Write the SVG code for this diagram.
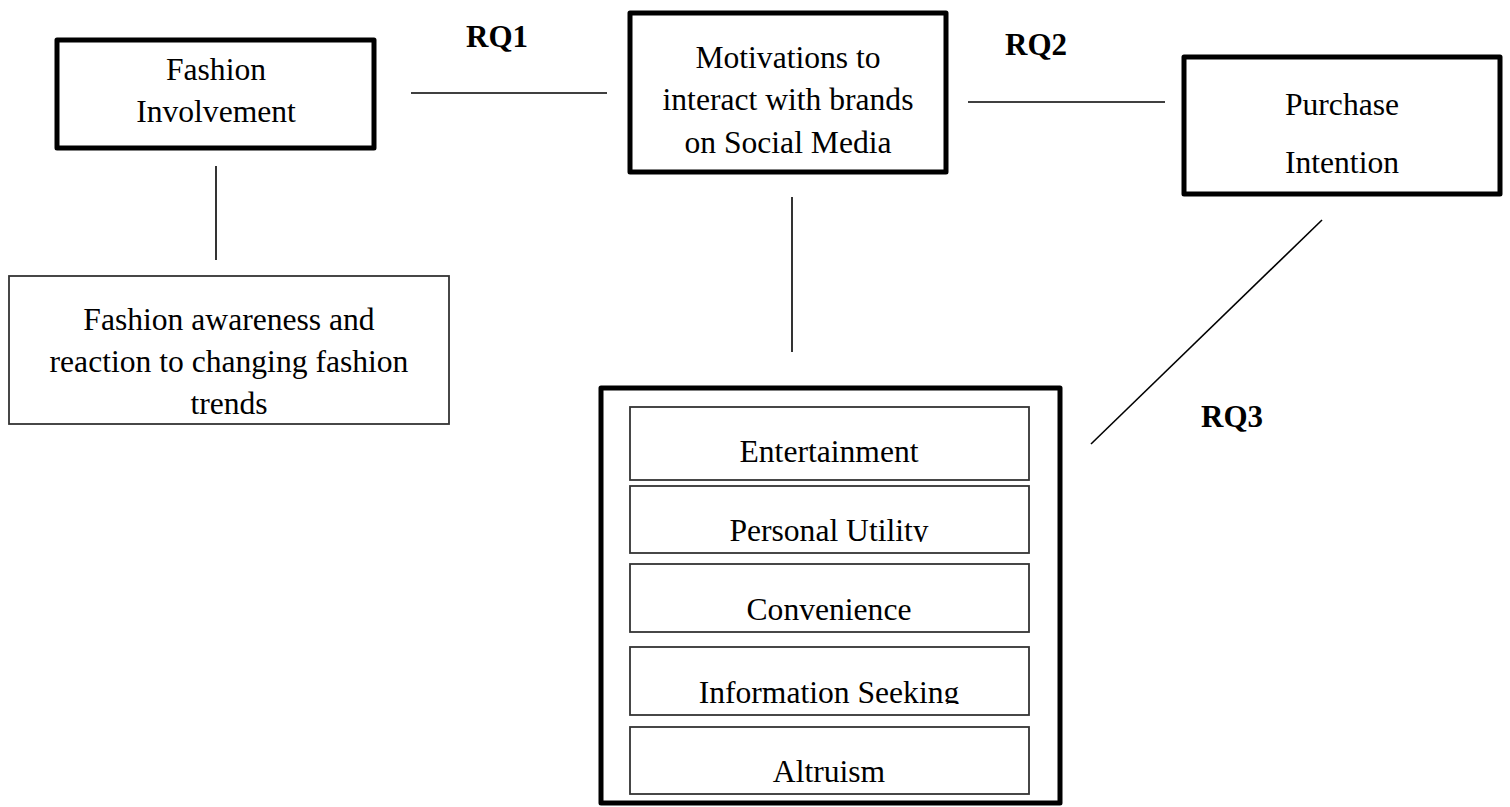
<svg xmlns="http://www.w3.org/2000/svg" width="1510" height="807" viewBox="0 0 1510 807">
<style>
.thick{fill:#fff;stroke:#000;stroke-width:5;stroke-linejoin:round}
.thin{fill:#fff;stroke:#333;stroke-width:1.8}
.t{font-family:"Liberation Serif","Times New Roman",serif;font-size:31.6px;fill:#000;text-anchor:middle}
.rq{font-family:"Liberation Serif","Times New Roman",serif;font-size:31px;font-weight:bold;fill:#000}
.ln{stroke:#000;stroke-width:1.6;fill:none}
</style>
<defs>
<clipPath id="c-aw"><rect x="9" y="276" width="440" height="139"/></clipPath>
<clipPath id="c-pu"><rect x="630" y="486" width="399" height="56"/></clipPath>
<clipPath id="c-is"><rect x="630" y="647" width="399" height="57"/></clipPath>
</defs>
<rect width="1510" height="807" fill="#fff"/>
<g id="connectors">
<line class="ln" x1="216" y1="166" x2="216" y2="260"/>
<line class="ln" x1="411" y1="93" x2="607" y2="93"/>
<line class="ln" x1="968" y1="102" x2="1165" y2="102"/>
<line class="ln" x1="792" y1="197" x2="792" y2="352"/>
<line class="ln" x1="1322" y1="220" x2="1091" y2="444"/>
<text class="rq" x="466" y="47">RQ1</text>
<text class="rq" x="1005" y="55">RQ2</text>
<text class="rq" x="1201" y="427">RQ3</text>
</g>
<g id="fashion-involvement">
<rect class="thick" x="57" y="40" width="317" height="108" stroke-width="4"/>
<text class="t" x="216" y="80">Fashion</text>
<text class="t" x="216" y="122">Involvement</text>
</g>
<g id="fashion-awareness">
<rect class="thin" x="9" y="276" width="440" height="148"/>
<g clip-path="url(#c-aw)">
<text class="t" x="229" y="330">Fashion awareness and</text>
<text class="t" x="229" y="372">reaction to changing fashion</text>
<text class="t" x="229" y="414">trends</text>
</g>
</g>
<g id="motivations">
<rect class="thick" x="630" y="13" width="316" height="159"/>
<text class="t" x="788" y="68">Motivations to</text>
<text class="t" x="788" y="110">interact with brands</text>
<text class="t" x="788" y="153">on Social Media</text>
</g>
<g id="purchase-intention">
<rect class="thick" x="1184" y="57" width="316" height="137"/>
<text class="t" x="1342" y="115">Purchase</text>
<text class="t" x="1342" y="173">Intention</text>
</g>
<g id="motivation-factors">
<rect class="thick" x="601" y="388" width="459" height="415"/>
<g id="entertainment">
<rect class="thin" x="630" y="407" width="399" height="73"/>
<text class="t" x="829" y="462">Entertainment</text>
</g>
<g id="personal-utility">
<rect class="thin" x="630" y="486" width="399" height="67"/>
<text class="t" x="829" y="541" clip-path="url(#c-pu)">Personal Utility</text>
</g>
<g id="convenience">
<rect class="thin" x="630" y="564" width="399" height="68"/>
<text class="t" x="829" y="620">Convenience</text>
</g>
<g id="information-seeking">
<rect class="thin" x="630" y="647" width="399" height="68"/>
<text class="t" x="829" y="703" clip-path="url(#c-is)">Information Seeking</text>
</g>
<g id="altruism">
<rect class="thin" x="630" y="727" width="399" height="67"/>
<text class="t" x="829" y="782">Altruism</text>
</g>
</g>
</svg>
